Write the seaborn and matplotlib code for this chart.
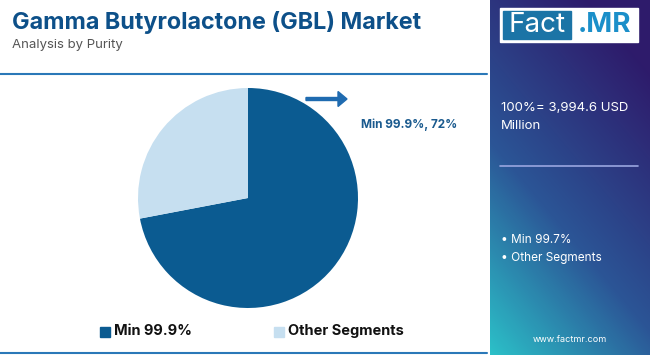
import numpy as np
import matplotlib.pyplot as plt
import seaborn as sns
from matplotlib.colors import LinearSegmentedColormap
from matplotlib.patches import Rectangle, FancyArrow

segments = ["Min 99.9%", "Other Segments"]
shares = [72, 28]
panel_items = ["Min 99.7%", "Other Segments"]
total_text = "100%= 3,994.6 USD\nMillion"

sns.set_theme(style="white")
plt.rcParams['font.family'] = ['Inter', 'DejaVu Sans']

W, H = 650, 355
fig = plt.figure(figsize=(6.5, 3.55), dpi=100)
fig.patch.set_facecolor("white")


def px(x, y):
    return x / W, 1 - y / H


colors = ["#0b5b91", "#c6dff0"]

# pie
ax = fig.add_axes([138 / W, (H - 308) / H, 220 / W, 220 / H])
ax.pie(shares, colors=colors, startangle=90, counterclock=False,
       wedgeprops=dict(linewidth=0))
ax.set_xlim(-1, 1)
ax.set_ylim(-1, 1)
ax.set_aspect("equal")
ax.axis("off")

# title block
fig.text(*px(12, 23), "Gamma Butyrolactone (GBL) Market", fontsize=16.8,
         fontweight="bold", color="#0d5089", va="center", ha="left")
fig.text(*px(12, 45), "Analysis by Purity", fontsize=9.5, color="#555555",
         va="center", ha="left")
fig.add_artist(plt.Line2D([0, 487 / W], [1 - 74 / H] * 2, color="#2a78b8", lw=1.5))
fig.add_artist(plt.Line2D([0, 487 / W], [1 - 353 / H] * 2, color="#2a78b8", lw=1.5))

# arrow + label
fig.add_artist(FancyArrow(306 / W, 1 - 99 / H, 32 / W, 0, width=3 / H,
                          head_width=15 / H, head_length=9 / W,
                          length_includes_head=False, color="#1f6bb0",
                          transform=fig.transFigure))
fig.text(*px(361, 125), f"{segments[0]}, {shares[0]}%", fontsize=8.5,
         fontweight="bold", color="#1a5a8e", va="center", ha="left")

# legend
for (x, lab, c) in [(100, segments[0], colors[0]), (274, segments[1], colors[1])]:
    fig.add_artist(Rectangle(px(x, 337), 10 / W, 10 / H, color=c,
                             transform=fig.transFigure))
    fig.text(*px(x + 14, 331), lab, fontsize=10.5, fontweight="bold",
             color="#111111", va="center", ha="left")

# right panel gradient
pax = fig.add_axes([490 / W, 0, 160 / W, 1])
u = np.linspace(0, 1, 160)
v = np.linspace(0, 1, 355)
U, V = np.meshgrid(u, v)
t = np.clip(0.75 * V + 0.4 * (1 - U) - 0.15, 0, 1)
cmap = LinearSegmentedColormap.from_list(
    "panel", [(0, "#2e1b6b"), (0.55, "#2b5596"), (1, "#2cc0c8")])
pax.imshow(t, cmap=cmap, aspect="auto", extent=[0, 1, 0, 1], origin="upper")
pax.axis("off")

# logo
fig.add_artist(Rectangle(px(500, 42), 138 / W, 34 / H, color="white",
                         transform=fig.transFigure))
fig.add_artist(Rectangle(px(503, 39), 68 / W, 28 / H, color="#1b74a6",
                         transform=fig.transFigure))
fig.text(*px(537, 25), "Fact", fontsize=20, color="white", va="center", ha="center")
fig.text(*px(604, 25), ".MR", fontsize=20, fontweight="bold", color="#1b8fc9",
         va="center", ha="center")

fig.text(*px(501, 117), total_text, fontsize=9.5, color="white", va="center",
         ha="left", linespacing=1.6)
fig.add_artist(plt.Line2D([500 / W, 638 / W], [1 - 166 / H] * 2,
                          color="#9aa6e0", lw=1.2))
for i, item in enumerate(panel_items):
    fig.text(*px(501, 240 + 18 * i), "\u2022 " + item, fontsize=8.5,
             color="white", va="center", ha="left")
fig.text(*px(570, 340), "www.factmr.com", fontsize=6.5, color="white",
         va="center", ha="center")

fig.savefig("out.png", dpi=100)
